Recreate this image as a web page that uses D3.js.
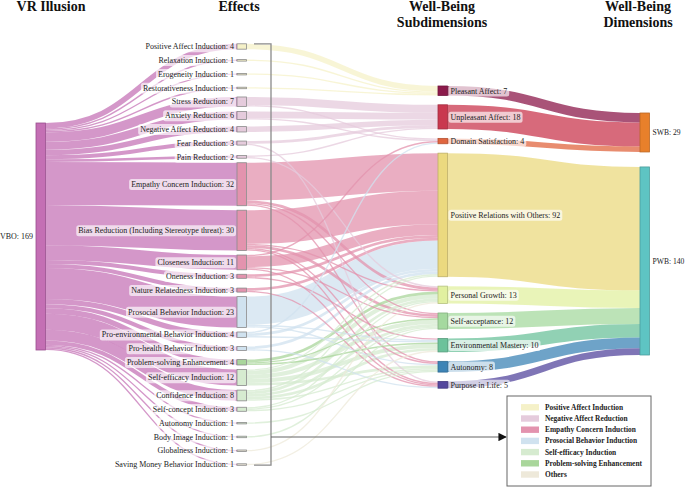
<!DOCTYPE html>
<html>
<head>
<meta charset="utf-8">
<script src="https://cdn.jsdelivr.net/npm/d3@7"></script>
<style>
  body { margin: 0; background: #fff; }
  text { font-family: "Liberation Serif", "DejaVu Serif", serif; }
</style>
</head>
<body>
<script>
// ---- data ----
var sourceName = "VBO";

var effectNames = ["Positive Affect Induction", "Relaxation Induction", "Erogeneity Induction",
  "Restorativeness Induction", "Stress Reduction", "Anxiety Reduction", "Negative Affect Reduction",
  "Fear Reduction", "Pain Reduction", "Empathy Concern Induction",
  "Bias Reduction (Including Stereotype threat)", "Closeness Induction", "Oneness Induction",
  "Nature Relatedness Induction", "Prosocial Behavior Induction", "Pro-environmental Behavior Induction",
  "Pro-health Behavior Induction", "Problem-solving Enhancement", "Self-efficacy Induction",
  "Confidence Induction", "Self-concept Induction", "Autonomy Induction", "Body Image Induction",
  "Globalness Induction", "Saving Money Behavior Induction"];
var effectValues = [4, 1, 1, 1, 7, 6, 4, 3, 2, 32, 30, 11, 3, 3, 23, 4, 3, 4, 12, 8, 3, 1, 1, 1, 1];
var effectGroup = [0, 0, 0, 0, 1, 1, 1, 1, 1, 2, 2, 2, 2, 2, 3, 3, 3, 5, 4, 4, 4, 4, 4, 6, 6];

var groupNames = ["Positive Affect Induction", "Negative Affect Reduction", "Empathy Concern Induction",
  "Prosocial Behavior Induction", "Self-efficacy Induction", "Problem-solving Enhancement", "Others"];
var groupColors = ["#f5f1c8", "#e5cbdc", "#e393ae", "#d0e2ef", "#d6ebd0", "#a9d69b", "#eee9da"];

var subNames = ["Pleasant Affect", "Unpleasant Affect", "Domain Satisfaction",
  "Positive Relations with Others", "Personal Growth", "Self-acceptance",
  "Environmental Mastery", "Autonomy", "Purpose in Life"];
var subColors = ["#8c1a4b", "#c9384f", "#e0653f", "#ebd97f", "#e1f0a0", "#a5d99f", "#6cc29b", "#3d84b6", "#54479e"];
var subDim = [0, 0, 0, 1, 1, 1, 1, 1, 1];

var dimNames = ["SWB", "PWB"];
var dimColors = ["#e8802b", "#5ec4c3"];

// effect index, subdimension index, count
var flows = [
  [0, 0, 4], [1, 0, 1], [2, 0, 1], [3, 0, 1],
  [4, 1, 6], [4, 2, 1], [5, 1, 5], [5, 2, 1], [6, 1, 4],
  [7, 1, 2], [7, 8, 1], [8, 1, 1], [8, 4, 1],
  [9, 3, 28], [9, 4, 2], [9, 5, 1], [9, 7, 1],
  [10, 3, 25], [10, 4, 1], [10, 5, 2], [10, 7, 1], [10, 8, 1],
  [11, 2, 1], [11, 3, 8], [11, 5, 1], [11, 8, 1],
  [12, 3, 2], [12, 6, 1], [13, 3, 2], [13, 8, 1],
  [14, 3, 21], [14, 6, 1], [14, 7, 1],
  [15, 2, 1], [15, 3, 2], [15, 6, 1], [16, 3, 2], [16, 8, 1],
  [17, 4, 2], [17, 5, 1], [17, 6, 1],
  [18, 3, 1], [18, 4, 3], [18, 5, 3], [18, 6, 3], [18, 7, 2],
  [19, 3, 1], [19, 4, 2], [19, 5, 2], [19, 6, 2], [19, 7, 1],
  [20, 4, 1], [20, 5, 1], [20, 7, 1],
  [21, 7, 1], [22, 5, 1], [23, 4, 1], [24, 6, 1]
];

// ---- layout ----
var width = 685, height = 488;
var nodeW = 9.5;
var colX = [36, 237, 438, 640];
var k = d3.scaleLinear().domain([0, 169]).range([0, 227]);

var svg = d3.select("body").append("svg")
    .attr("width", width)
    .attr("height", height);

// build nodes
var vbo = {name: sourceName, col: 0, color: "#c46fb4", stroke: "#9a4f8e", value: d3.sum(effectValues)};
var effects = effectNames.map(function(n, i) {
  return {name: n, col: 1, value: effectValues[i], color: groupColors[effectGroup[i]], stroke: "#8a8a8a", group: effectGroup[i]};
});
var subs = subNames.map(function(n, i) {
  var v = d3.sum(flows.filter(function(f) { return f[1] == i; }), function(f) { return f[2]; });
  return {name: n, col: 2, value: v, color: subColors[i], stroke: d3.color(subColors[i]).darker(0.6)};
});
var dims = dimNames.map(function(n, i) {
  var v = d3.sum(subs.filter(function(s, j) { return subDim[j] == i; }), function(s) { return s.value; });
  return {name: n, col: 3, value: v, color: dimColors[i], stroke: d3.color(dimColors[i]).darker(0.6)};
});

function placeColumn(nodes, top, pad, minGap) {
  var c = null, prev = null;
  nodes.forEach(function(n) {
    n.h = k(n.value);
    if (prev == null) c = top + n.h / 2;
    else c = c + Math.max((prev.h + n.h) / 2 + pad, minGap);
    n.y0 = c - n.h / 2;
    n.y1 = c + n.h / 2;
    n.x0 = colX[n.col];
    n.x1 = n.x0 + nodeW;
    n.out = []; n.inc = [];
    prev = n;
  });
}
placeColumn([vbo], 123, 0, 0);
placeColumn(effects, 43.8, 4.5, 13.8);
placeColumn(subs, 86, 9.4, 0);
placeColumn(dims, 113, 15, 0);

// links
var links = [];
effects.forEach(function(e, i) {
  links.push({source: vbo, target: e, value: e.value, color: "#c46fb4", opacity: 0.72});
});
flows.forEach(function(f) {
  var e = effects[f[0]];
  links.push({source: e, target: subs[f[1]], value: f[2], color: groupColors[e.group], opacity: 0.75});
});
subs.forEach(function(s, i) {
  links.push({source: s, target: dims[subDim[i]], value: s.value, color: subColors[i], opacity: 0.75});
});
links.forEach(function(l) {
  l.w = k(l.value);
  l.source.out.push(l);
  l.target.inc.push(l);
});
[vbo].concat(effects, subs, dims).forEach(function(n) {
  n.out.sort(function(a, b) { return a.target.y0 - b.target.y0; });
  n.inc.sort(function(a, b) { return a.source.y0 - b.source.y0; });
  var y = n.y0;
  n.out.forEach(function(l) { l.sy = y + l.w / 2; y += l.w; });
  y = n.y0;
  n.inc.forEach(function(l) { l.ty = y + l.w / 2; y += l.w; });
});

var linkPath = d3.linkHorizontal()
    .source(function(d) { return [d.source.x1, d.sy]; })
    .target(function(d) { return [d.target.x0, d.ty]; });

// draw the thick ones first so thin crossing lines stay visible
svg.append("g").selectAll("path")
    .data(links.slice().sort(function(a, b) { return b.w - a.w; }))
  .enter().append("path")
    .attr("d", linkPath)
    .attr("fill", "none")
    .attr("stroke", function(d) { return d.color; })
    .attr("stroke-opacity", function(d) { return d.opacity; })
    .attr("stroke-width", function(d) { return Math.max(1, d.w); });

// nodes
var allNodes = [vbo].concat(effects, subs, dims);
svg.append("g").selectAll("rect")
    .data(allNodes)
  .enter().append("rect")
    .attr("x", function(d) { return d.x0; })
    .attr("y", function(d) { return d.y0; })
    .attr("width", nodeW)
    .attr("height", function(d) { return Math.max(1.5, d.h); })
    .attr("fill", function(d) { return d.color; })
    .attr("stroke", function(d) { return d.stroke; })
    .attr("stroke-width", 0.8);

// labels
function addLabel(n, x, anchor, boxed, size) {
  var g = svg.append("g");
  var t = g.append("text")
      .attr("x", x)
      .attr("y", (n.y0 + n.y1) / 2)
      .attr("dy", "0.35em")
      .attr("text-anchor", anchor)
      .style("font-size", size || "8px")
      .style("fill", "#222")
      .text(n.name + ": " + n.value);
  if (boxed) {
    var b = t.node().getBBox();
    g.insert("rect", "text")
        .attr("x", b.x - 2)
        .attr("y", b.y - 1)
        .attr("width", b.width + 4)
        .attr("height", b.height + 2)
        .attr("rx", 2.5)
        .attr("fill", "#fff")
        .attr("fill-opacity", 0.65);
  }
}
addLabel(vbo, vbo.x0 - 3, "end", false);
effects.forEach(function(n) { addLabel(n, n.x0 - 3, "end", true); });
subs.forEach(function(n) { addLabel(n, n.x1 + 3, "start", true); });
dims.forEach(function(n) { addLabel(n, n.x1 + 3, "start", false, "7.6px"); });

// headers
var headers = [
  {lines: ["VR Illusion"], x: 51},
  {lines: ["Effects"], x: 239},
  {lines: ["Well-Being", "Subdimensions"], x: 442},
  {lines: ["Well-Being", "Dimensions"], x: 638}
];
headers.forEach(function(h) {
  h.lines.forEach(function(line, i) {
    svg.append("text")
        .attr("x", h.x)
        .attr("y", 11 + i * 16)
        .attr("text-anchor", "middle")
        .style("font-size", "14px")
        .style("font-weight", "bold")
        .style("fill", "#111")
        .text(line);
  });
});

// legend
var lg = {x: 507, y: 396, w: 144, h: 90};
var bracketX = 271, bracketTop = effects[0].y0, bracketBot = effects[effects.length - 1].y1;
var arrowY = lg.y + 41;

svg.append("defs").append("marker")
    .attr("id", "arrow")
    .attr("viewBox", "0 0 10 10")
    .attr("refX", 9).attr("refY", 5)
    .attr("markerWidth", 7).attr("markerHeight", 7)
    .attr("orient", "auto")
  .append("path")
    .attr("d", "M0,0L10,5L0,10z")
    .attr("fill", "#111");

svg.append("path")
    .attr("d", "M" + (bracketX - 17) + "," + bracketTop + "H" + bracketX + "V" + bracketBot + "H" + (bracketX - 17))
    .attr("fill", "none")
    .attr("stroke", "#8a8a8a")
    .attr("stroke-width", 1.3);
svg.append("line")
    .attr("x1", bracketX).attr("x2", lg.x - 1)
    .attr("y1", arrowY).attr("y2", arrowY)
    .attr("stroke", "#666")
    .attr("stroke-width", 1.2)
    .attr("marker-end", "url(#arrow)");

svg.append("rect")
    .attr("x", lg.x).attr("y", lg.y)
    .attr("width", lg.w).attr("height", lg.h)
    .attr("fill", "#fff")
    .attr("stroke", "#666")
    .attr("stroke-width", 1);

var items = svg.append("g").selectAll("g")
    .data(groupNames)
  .enter().append("g")
    .attr("transform", function(d, i) { return "translate(" + (lg.x + 14) + "," + (lg.y + 11.3 + i * 11.2) + ")"; });
items.append("rect")
    .attr("x", 0).attr("y", -3.2)
    .attr("width", 18).attr("height", 6.4)
    .attr("fill", function(d, i) { return groupColors[i]; });
items.append("text")
    .attr("x", 24)
    .attr("dy", "0.33em")
    .style("font-size", "7.4px")
    .style("font-weight", "bold")
    .style("fill", "#222")
    .text(function(d) { return d; });
</script>
</body>
</html>
